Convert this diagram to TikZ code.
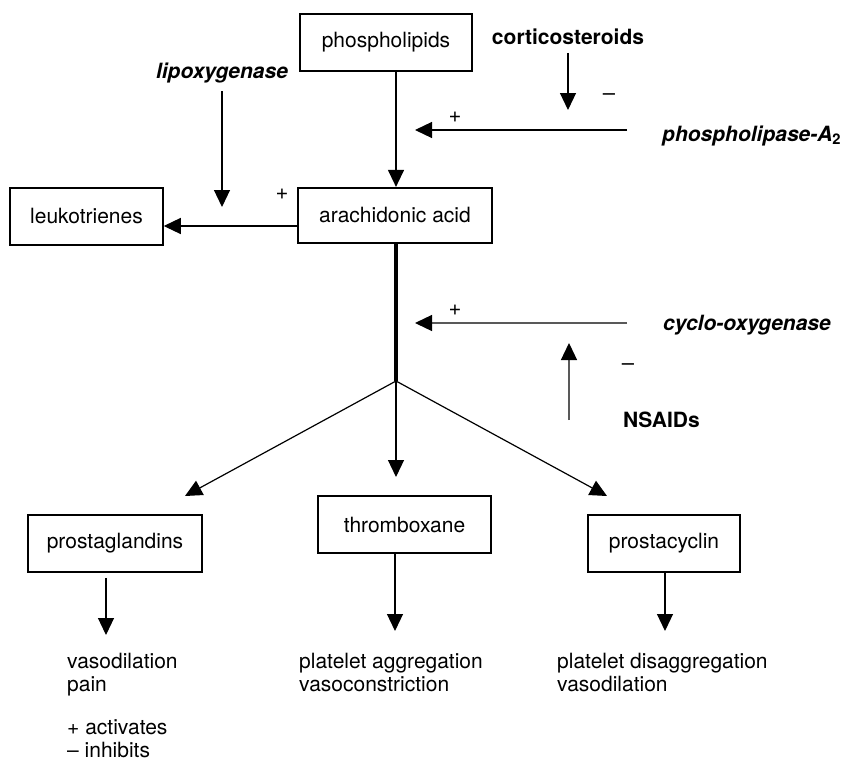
\documentclass[tikz,border=0pt]{standalone}
\usepackage{fontspec}
\setmainfont{TeX Gyre Heros}
\usetikzlibrary{arrows.meta}

\begin{document}
\begin{tikzpicture}[x=1pt,y=-1pt,
  txt/.style={font=\fontsize{21}{23}\selectfont, inner sep=0pt},
  bx/.style={txt, draw, line width=1.5pt, minimum height=57pt},
  bxb/.style={bx, line width=2.2pt},
  enz/.style={txt, font=\fontsize{21}{23}\selectfont\bfseries\itshape},
  drug/.style={txt, font=\fontsize{21}{23}\selectfont\bfseries},
  sgn/.style={inner sep=0pt, font=\fontsize{22}{22}\selectfont},
  tipA/.tip={Triangle[length=17pt,width=16pt]},
  arr/.style={-tipA, line width=1.2pt},
  garr/.style={-{Triangle[length=17pt,width=16pt,color=black,fill=black]}, line width=1.3pt, draw=black!65},
  trunk/.style={line width=4pt}]
\useasboundingbox (0,0) rectangle (846,760);

% metabolites
\node[bxb, minimum width=172pt] (phos)   at (386,42.5)  {phospholipids};
\node[bxb, minimum width=194pt, minimum height=55pt] (arach) at (395,215.5) {arachidonic acid};
\node[bx,  minimum width=153pt] (leuko)  at (86.5,216.5) {leukotrienes};
\node[bx,  minimum width=174pt] (pgl)    at (115,543.5) {prostaglandins};
\node[bx,  minimum width=173pt] (txa)    at (404.5,524.5) {thromboxane};
\node[bx,  minimum width=152pt] (pgi)    at (664,543.5) {prostacyclin};

% enzymes and drugs
\node[drug] (cort)  at (568,37) {corticosteroids};
\node[enz]  (lipox) at (222,73) {lipoxygenase};
\node[enz, anchor=west] (pla2)  at (662,136) {phospholipase-A\textsubscript{\upshape 2}};
\node[enz, anchor=west] (cox)   at (663,325) {cyclo-oxygenase};
\node[drug, anchor=west] (nsaid) at (623,420) {NSAIDs};

% activation / inhibition signs
\node[sgn] (s1) at (455,117) {+};
\node[sgn] (s2) at (609,97)  {–};
\node[sgn] (s3) at (282,194) {+};
\node[sgn] (s4) at (455,310) {+};
\node[sgn] (s5) at (628,367) {–};

% effects (base anchor sits on the last line)
\node[txt, anchor=base west, align=left] (eff1) at (67,691)  {vasodilation\\pain};
\node[txt, anchor=base west, align=left] (eff2) at (299,691) {platelet aggregation\\vasoconstriction};
\node[txt, anchor=base west, align=left] (eff3) at (557,691) {platelet disaggregation\\vasodilation};
\node[txt, anchor=base west, align=left] (key)  at (67,757)  {+ activates\\– inhibits};

% connector end points
\coordinate (j)     at (396,381);
\coordinate (cortA) at (568,53);
\coordinate (cortB) at (568,110);
\coordinate (plaA)  at (627,130);
\coordinate (plaB)  at (415,130);
\coordinate (lipA)  at (222,91);
\coordinate (lipB)  at (222,207);
\coordinate (leuA)  at (298,226);
\coordinate (coxA)  at (627,323);
\coordinate (coxB)  at (415,323);
\coordinate (nsA)   at (569,420);
\coordinate (nsB)   at (569,343);
\coordinate (brL)   at (185,496);
\coordinate (brM)   at (396,477);
\coordinate (brR)   at (607,496);
\coordinate (e1)    at (106,635);
\coordinate (e2)    at (395,631);
\coordinate (e3)    at (665,631);

% pathway
\draw[arr] (phos.south -| j) -- (arach.north -| j);
\draw[arr] (leuA) -- (leuA -| leuko.east);
\draw[trunk] (arach.south -| j) -- (j);
\draw[arr] (j) -- (brL);
\draw[arr] (j) -- (brM);
\draw[arr] (j) -- (brR);
\draw[arr] ([yshift=-5pt]pgl.south -| e1) -- (e1);
\draw[arr] (txa.south -| e2) -- (e2);
\draw[arr] (pgi.south -| e3) -- (e3);

% enzyme and drug actions
\draw[arr] (cortA) -- (cortB);
\draw[arr] (plaA) -- (plaB);
\draw[arr] (lipA) -- (lipB);
\draw[garr] (coxA) -- (coxB);
\draw[garr] (nsA) -- (nsB);
\end{tikzpicture}
\end{document}
